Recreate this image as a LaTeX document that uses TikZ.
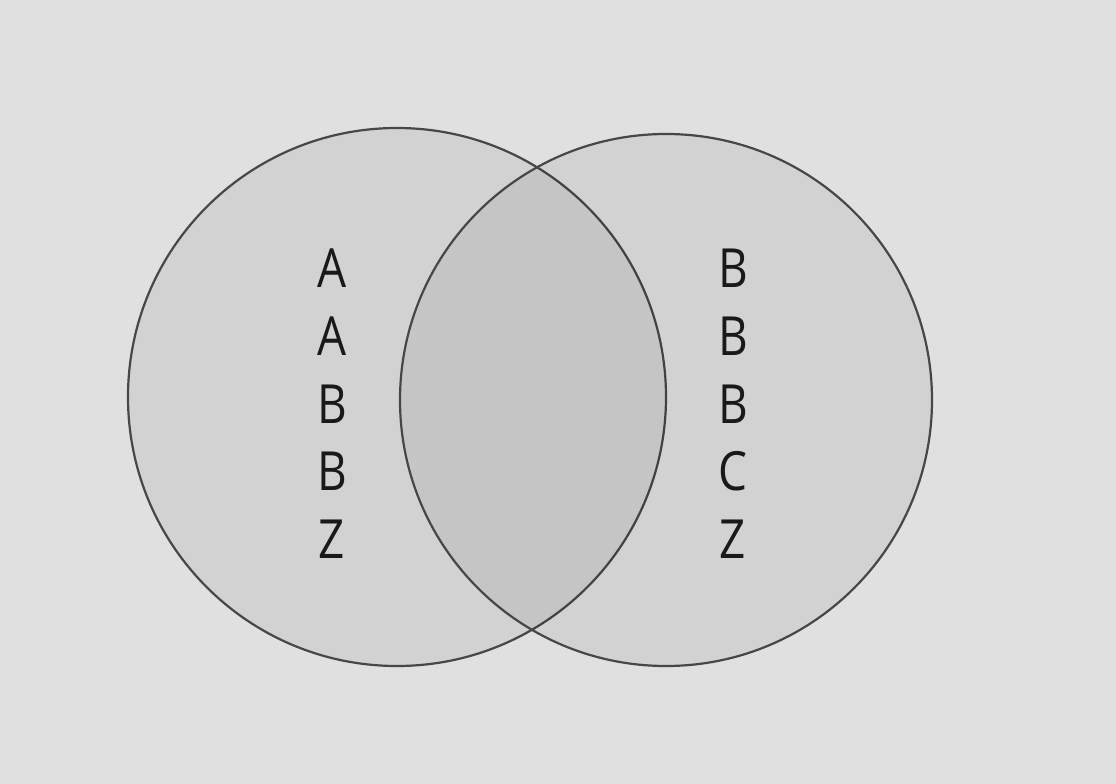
\documentclass[tikz,border=0pt]{standalone}
\usepackage{fontspec}
\setmainfont{Open Sans}
\begin{document}
\begin{tikzpicture}[x=1pt,y=-1pt,
  setcircle/.style={draw=black!72, line width=2.2pt, fill=black, fill opacity=0.06, draw opacity=1},
  letter/.style={font=\fontsize{54}{54}\selectfont, text=black!90, xscale=0.85, transform shape, inner sep=0pt}]
\fill[black!12] (0,0) rectangle (1116,784);
\useasboundingbox (0,0) rectangle (1116,784);
\node[setcircle, circle, minimum size=538pt, inner sep=0pt] (L) at (397,397) {};
\node[setcircle, circle, minimum size=532pt, inner sep=0pt] (R) at (666,400) {};
\node[letter] (l1) at (332,268) {A};
\node[letter] (l2) at (332,336) {A};
\node[letter] (l3) at (332,404) {B};
\node[letter] (l4) at (332,471) {B};
\node[letter] (l5) at (332,539) {Z};
\node[letter] (r1) at (733,268) {B};
\node[letter] (r2) at (733,336) {B};
\node[letter] (r3) at (733,404) {B};
\node[letter] (r4) at (733,471) {C};
\node[letter] (r5) at (733,539) {Z};
\end{tikzpicture}
\end{document}
